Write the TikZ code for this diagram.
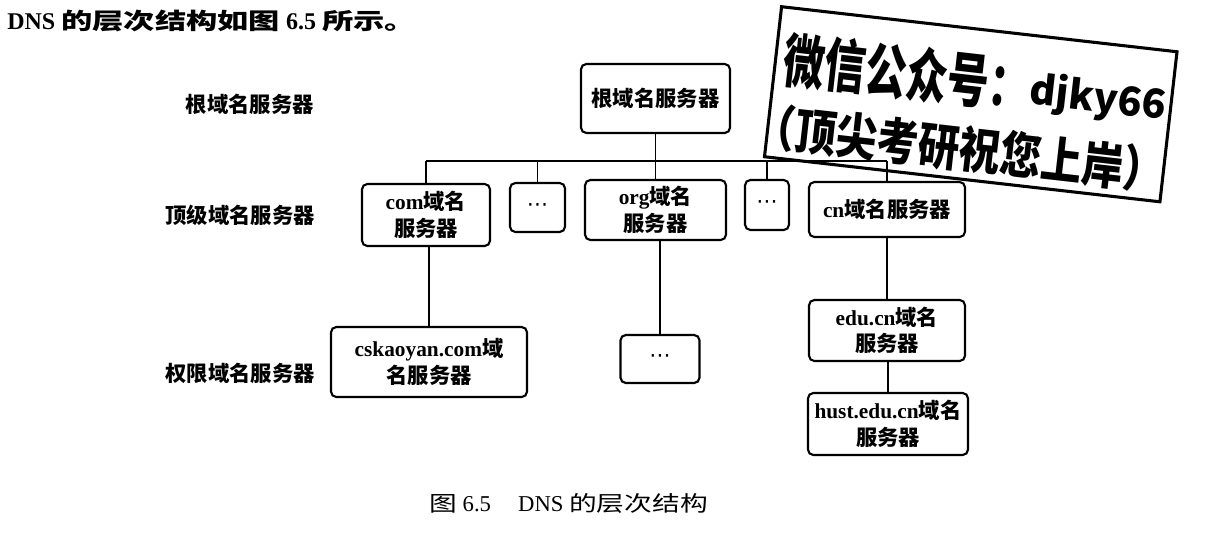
\documentclass[tikz,border=0pt]{standalone}
\usepackage{fontspec}
\setmainfont{Liberation Serif}
\newfontfamily\cjk{Noto Sans CJK SC}
\newfontfamily\dvs{DejaVu Sans}
\newcommand\zhs[1]{{\cjk\bfseries #1}}
\newcommand\zhw[2]{\scalebox{#1}[1]{\cjk #2}}
\newcommand\mdots{{\dvs ⋯}}
\tikzset{
  box/.style={draw, rounded corners=4pt, line width=1.6pt, align=center, inner sep=0pt,
    font=\fontsize{16}{20}\selectfont},
  sz/.style 2 args={minimum width=#1*0.75pt, minimum height=#2*0.75pt},
  conn/.style={line width=1.3pt},
  lvl/.style={anchor=east, inner sep=0pt, font=\fontsize{16}{20}\selectfont\cjk\bfseries},
  plain/.style={anchor=west, inner sep=0pt},
  wmtext/.style={transform shape, inner sep=0pt, font=\fontsize{31}{31}\selectfont\cjk\bfseries}
}
\begin{document}
\begin{tikzpicture}[x=0.75pt, y=-0.75pt]
\useasboundingbox[fill=white] (0,0) rectangle (1227,546);

% header and caption
\node[plain, font=\fontsize{18}{22}\selectfont\bfseries] (head) at (7,21)
  {DNS \zhw{1.38}{\bfseries\fontsize{17}{22}\selectfont 的层次结构如图} 6.5 \zhw{1.38}{\bfseries\fontsize{17}{22}\selectfont 所示。}};
\node[plain, font=\fontsize{17}{22}\selectfont] (cap) at (429,503)
  {\zhw{1.3}{\fontsize{16}{20}\selectfont 图} 6.5\hspace{1.2em}DNS \zhw{1.3}{\fontsize{16}{20}\selectfont 的层次结构}};

% watermark stamp
\begin{scope}[shift={(970.75,104.25)}, rotate=-6.5]
  \draw[line width=2.3pt, fill=white] (-199,-75.5) rectangle (199,75.5);
  \node[wmtext] (wm1) at (2,-24) {\scalebox{1}[1.42]{微信公众号：}\raisebox{4pt}{\fontsize{30}{30}\selectfont djky66}};
  \node[wmtext] (wm2) at (-6,45) {\scalebox{1}[1.2]{（顶尖考研祝您上岸）}};
\end{scope}

% level labels
\node[lvl] (l1) at (314,104) {根域名服务器};
\node[lvl] (l2) at (315,215) {顶级域名服务器};
\node[lvl] (l3) at (315,373) {权限域名服务器};

% nodes
\node[box, sz={149}{69}] (root) at (655.5,98.5) {\zhs{根域名服务器}};
\node[box, sz={128}{62}] (com) at (426,215) {\textbf{com}\zhs{域名}\\\zhs{服务器}};
\node[box, sz={55}{49}] (d1) at (537.5,207.5) {\mdots};
\node[box, sz={141}{60}] (org) at (655.5,210) {\textbf{org}\zhs{域名}\\\zhs{服务器}};
\node[box, sz={44}{50}] (d2) at (767,205) {\mdots};
\node[box, sz={156}{55}] (cn) at (887,209.5) {\textbf{cn}\zhs{域名服务器}};
\node[box, sz={196}{70}] (csk) at (429,362) {\textbf{cskaoyan.com}\zhs{域}\\\zhs{名服务器}};
\node[box, sz={79}{48}] (d3) at (660,359) {\mdots};
\node[box, sz={156}{61}] (edu) at (887,330.5) {\textbf{edu.cn}\zhs{域名}\\\zhs{服务器}};
\node[box, sz={160}{62}] (hust) at (888,424) {\textbf{hust.edu.cn}\zhs{域名}\\\zhs{服务器}};

% connectors
\coordinate (busL) at (426,161);
\coordinate (busR) at (887,161);
\draw[conn] (busL) -- (busR);
\draw[conn] (root.south) -- (root.south |- busL);
\draw[conn] (com.north) -- (com.north |- busL);
\draw[conn] (d1.north) -- (d1.north |- busL);
\draw[conn] (org.north) -- (org.north |- busL);
\draw[conn] (d2.north) -- (d2.north |- busL);
\draw[conn] (cn.north) -- (cn.north |- busL);
\draw[conn] (csk.north) -- (csk.north |- com.south);
\draw[conn] (d3.north) -- (d3.north |- org.south);
\draw[conn] (edu.north) -- (edu.north |- cn.south);
\draw[conn] (hust.north) -- (hust.north |- edu.south);
\end{tikzpicture}
\end{document}
